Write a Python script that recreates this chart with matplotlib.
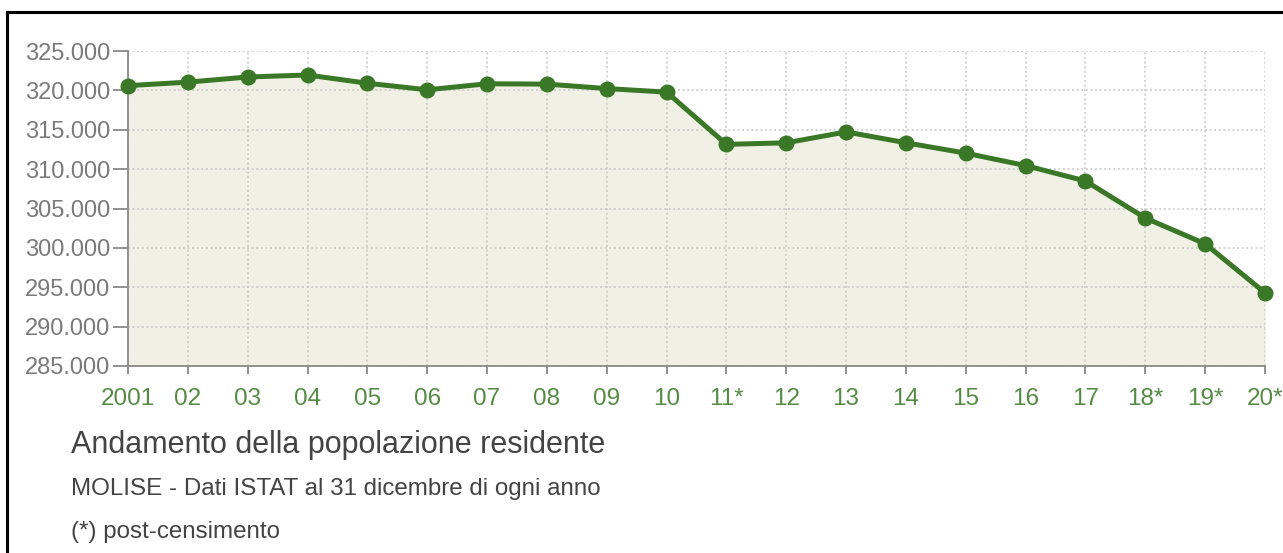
import numpy as np
import matplotlib.pyplot as plt
from matplotlib.lines import Line2D

# Molise resident population, 31 Dec of each year (ISTAT)
years = ['2001', '02', '03', '04', '05', '06', '07', '08', '09', '10',
         '11*', '12', '13', '14', '15', '16', '17', '18*', '19*', '20*']
population = [320601, 321047, 321697, 321953, 320907, 320074, 320838, 320795,
              320229, 319780, 313145, 313341, 314725, 313348, 312027, 310449,
              308493, 303790, 300516, 294294]
y_ticks = [285000, 290000, 295000, 300000, 305000, 310000, 315000, 320000, 325000]

plt.rcParams['font.family'] = ['Liberation Sans', 'DejaVu Sans']

green = '#3a7828'
fill = '#f0f1e4'

fig = plt.figure(figsize=(12.83, 5.53), dpi=100)
ax = fig.add_axes([128 / 1283, 1 - 366 / 553, (1265 - 128) / 1283, (366 - 51) / 553])

x = np.arange(len(years))
ax.fill_between(x, 285000, population, color=fill, zorder=1)
ax.plot(x, population, color=green, lw=3.6, marker='o', markersize=10.5,
        zorder=4, clip_on=False)

ax.set_xlim(0, len(years) - 1)
ax.set_ylim(285000, 325000)
ax.set_yticks(y_ticks)
ax.set_yticklabels([f'{v:,}'.replace(',', '.') for v in y_ticks])
ax.set_xticks(x)
ax.set_xticklabels(years)

ax.grid(True, color='#c4c4c4', linestyle=(0, (1.2, 1.8)), lw=1.1, zorder=2)
ax.set_axisbelow(False)
for s in ['top', 'right']:
    ax.spines[s].set_visible(False)
for s in ['left', 'bottom']:
    ax.spines[s].set_color('#8a8a8a')
    ax.spines[s].set_linewidth(1.3)
    ax.spines[s].set_zorder(3)

ax.tick_params(axis='y', length=11, width=1.3, color='#8a8a8a',
               labelcolor='#7a7a7a', labelsize=17, pad=2)
ax.tick_params(axis='x', length=6, width=1.3, color='#8a8a8a',
               labelcolor='#558c44', labelsize=17.5, pad=10)

# title block
fig.text(71 / 1283, 1 - 445 / 553, 'Andamento della popolazione residente',
         fontsize=22, color='#444444', va='center', ha='left')
fig.text(71 / 1283, 1 - 489 / 553, 'MOLISE - Dati ISTAT al 31 dicembre di ogni anno',
         fontsize=17.4, color='#444444', va='center', ha='left')
fig.text(71 / 1283, 1 - 532 / 553, '(*) post-censimento',
         fontsize=17.4, color='#444444', va='center', ha='left')

# frame lines (top and left)
fig.add_artist(Line2D([7 / 1283, 1], [1 - 12 / 553, 1 - 12 / 553],
                      color='black', lw=2.2, transform=fig.transFigure))
fig.add_artist(Line2D([7 / 1283, 7 / 1283], [0, 1 - 12 / 553],
                      color='black', lw=2.2, transform=fig.transFigure))

fig.savefig('out.png', dpi=100)
